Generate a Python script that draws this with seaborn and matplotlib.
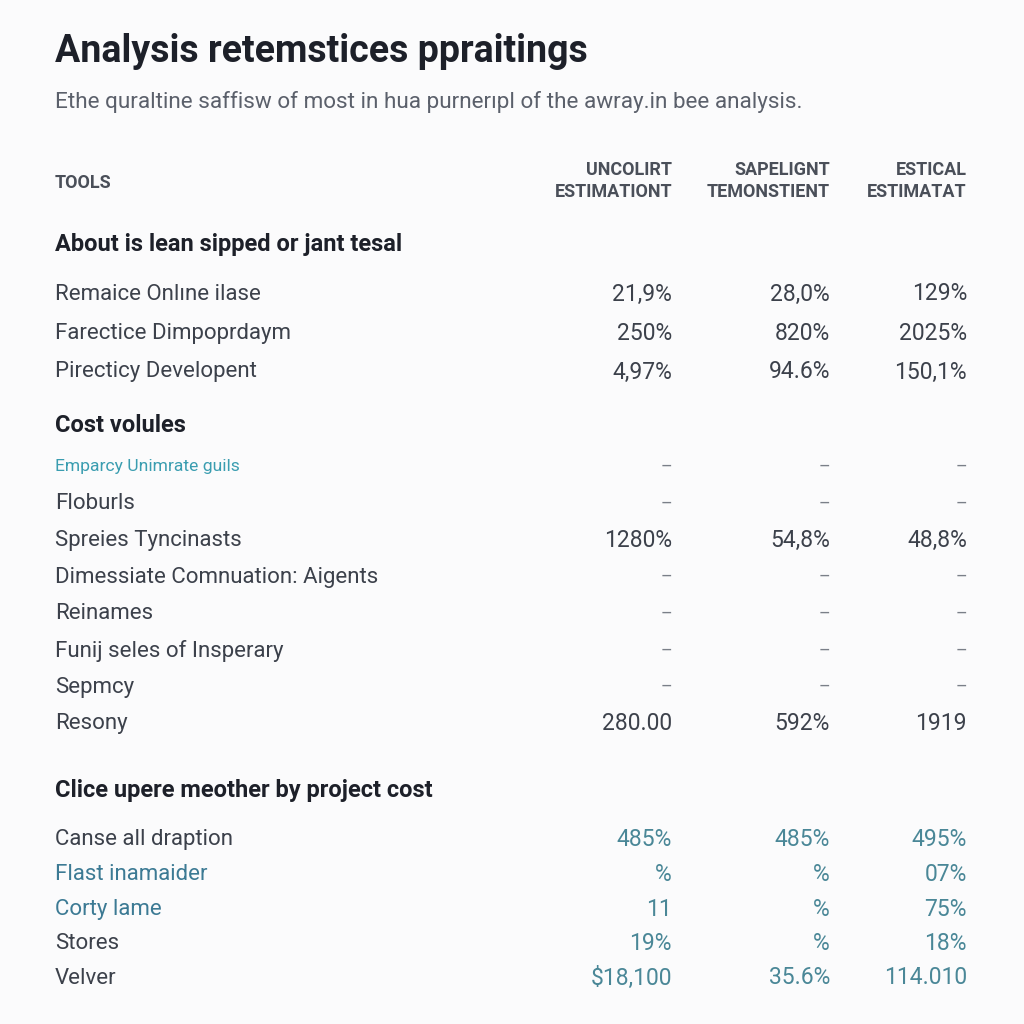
import numpy as np
import pandas as pd
import seaborn as sns
import matplotlib.pyplot as plt

title = "Analysis retemstices ppraitings"
subtitle = "Ethe quraltine saffisw of most in hua purnerıpl of the awray.in bee analysis."

col_headers = ["UNCOLIRT\nESTIMATIONT", "SAPELIGNT\nTEMONSTIENT", "ESTICAL\nESTIMATAT"]

section_titles = [
    "About is lean sipped or jant tesal",
    "Cost volules",
    "Clice upere meother by project cost",
]

row_labels = [
    ["Remaice Onlıne ilase", "Farectice Dimpoprdaym", "Pirecticy Developent"],
    ["Emparcy Unimrate guils", "Floburls", "Spreies Tyncinasts", "Dimessiate Comnuation: Aigents",
     "Reinames", "Funij seles of Insperary", "Sepmcy", "Resony"],
    ["Canse all draption", "Flast inamaider", "Corty lame", "Stores", "Velver"],
]

col1_values = [["21,9%", "250%", "4,97%"],
               ["–", "–", "1280%", "–", "–", "–", "–", "280.00"],
               ["485%", "%", "11", "19%", "$18,100"]]
col2_values = [["28,0%", "820%", "94.6%"],
               ["–", "–", "54,8%", "–", "–", "–", "–", "592%"],
               ["485%", "%", "%", "%", "35.6%"]]
col3_values = [["129%", "2025%", "150,1%"],
               ["–", "–", "48,8%", "–", "–", "–", "–", "1919"],
               ["495%", "07%", "75%", "18%", "114.010"]]

# build one long table
records = []
for s, sec in enumerate(section_titles):
    for r, lab in enumerate(row_labels[s]):
        records.append({"section": s, "row": r, "label": lab,
                        "c1": col1_values[s][r], "c2": col2_values[s][r], "c3": col3_values[s][r]})
df = pd.DataFrame(records)

# layout (pixel space, y down)
section_y = [245, 426, 791]
first_row_offset = [49, 41, 49]
row_pitch = [39, 36.7, 34.5]
col_right = [672, 830, 967]
left_x = 55

sns.set_theme(style="white")
plt.rcParams["font.family"] = ["Roboto", "DejaVu Sans"]

dark = "#1d2029"
body = "#3c414b"
grey = "#5b606b"
teal_val = "#4a8797"
teal_lab = "#3c7a94"
teal_small = "#3a9db0"

fig = plt.figure(figsize=(10.24, 10.24), dpi=100, facecolor="#fbfbfc")
ax = fig.add_axes([0, 0, 1, 1])
ax.set_facecolor("#fbfbfc")
ax.set_xlim(0, 1024)
ax.set_ylim(1024, 0)
ax.axis("off")

ax.text(left_x, 52, title, fontsize=27, fontweight="bold", color=dark, va="center", ha="left")
ax.text(left_x, 102, subtitle, fontsize=16.2, color=grey, va="center", ha="left")

ax.text(left_x, 183, "TOOLS", fontsize=13, fontweight="bold", color="#4a4f59", va="center")
for x, h in zip(col_right, col_headers):
    ax.text(x, 181, h, fontsize=13, fontweight="bold", color="#4a4f59", ha="right", va="center",
            linespacing=1.25)

for s, sec in enumerate(section_titles):
    ax.text(left_x, section_y[s], sec, fontsize=17, fontweight="bold", color=dark, va="center")
    sub = df[df["section"] == s]
    for _, row in sub.iterrows():
        y = section_y[s] + first_row_offset[s] + row["row"] * row_pitch[s]
        lab = row["label"]
        if lab == "Emparcy Unimrate guils":
            ax.text(left_x, y, lab, fontsize=12.6, color=teal_small, va="center")
        elif lab in ("Flast inamaider", "Corty lame"):
            ax.text(left_x, y, lab, fontsize=16, color=teal_lab, va="center")
        else:
            ax.text(left_x, y, lab, fontsize=16, color=body, va="center")
        for x, key in zip(col_right, ["c1", "c2", "c3"]):
            val = row[key]
            if val == "–":
                ax.text(x, y, val, fontsize=13, color="#7a7f88", ha="right", va="center")
            else:
                c = teal_val if s == 2 else body
                ax.text(x, y, val, fontsize=16.5, color=c, ha="right", va="center")

fig.savefig("out.png", dpi=100, facecolor=fig.get_facecolor())
